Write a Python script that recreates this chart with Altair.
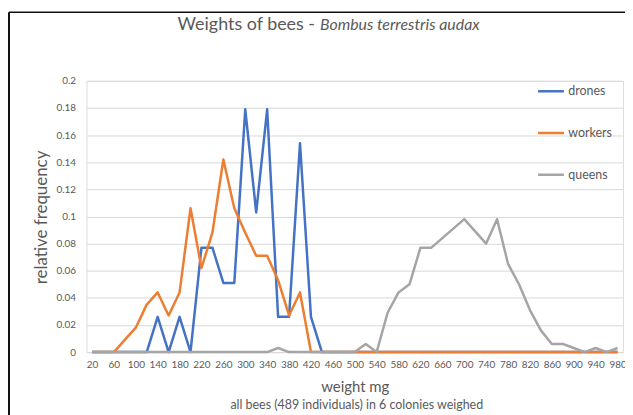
import altair as alt
import pandas as pd

# ---------------- data ----------------
weights = list(range(20, 1000, 20))  # 49 weight classes (mg)

drones = [0, 0, 0, 0, 0, 0, 0.026, 0, 0.026, 0,
          0.077, 0.077, 0.051, 0.051, 0.179, 0.103, 0.179, 0.026, 0.026, 0.154,
          0.026, 0, 0, 0, 0, 0, 0, 0, 0, 0,
          0, 0, 0, 0, 0, 0, 0, 0, 0, 0,
          0, 0, 0, 0, 0, 0, 0, 0, 0]

workers = [0, 0, 0, 0.009, 0.018, 0.035, 0.044, 0.027, 0.044, 0.106,
           0.062, 0.088, 0.142, 0.106, 0.088, 0.071, 0.071, 0.053, 0.027, 0.044,
           0, 0, 0, 0, 0, 0, 0, 0, 0, 0,
           0, 0, 0, 0, 0, 0, 0, 0, 0, 0,
           0, 0, 0, 0, 0, 0, 0, 0, 0]

queens = [0, 0, 0, 0, 0, 0, 0, 0, 0, 0,
          0, 0, 0, 0, 0, 0, 0, 0.003, 0, 0,
          0, 0, 0, 0, 0, 0.006, 0, 0.029, 0.044, 0.050,
          0.077, 0.077, 0.084, 0.091, 0.098, 0.089, 0.080, 0.098, 0.065, 0.050,
          0.031, 0.016, 0.006, 0.006, 0.003, 0, 0.003, 0, 0.003]

series = ["drones", "workers", "queens"]
colors = ["#4472C4", "#ED7D31", "#A5A5A5"]

title_plain = "Weights of bees -"
title_italic = "Bombus terrestris audax"
x_title = "weight mg"
caption = "all bees (489 individuals) in 6 colonies weighed"
y_title = "relative frequency"
x_label_values = list(range(20, 1000, 40))
y_values = [0, 0.02, 0.04, 0.06, 0.08, 0.1, 0.12, 0.14, 0.16, 0.18, 0.2]

frames = []
for name, vals in zip(series, [drones, workers, queens]):
    frames.append(pd.DataFrame({"weight": weights, "freq": vals, "bee": name}))
df = pd.concat(frames, ignore_index=True)

TXT = "#595959"
GRID = "#D9D9D9"

color = alt.Color(
    "bee:N",
    scale=alt.Scale(domain=series, range=colors),
    legend=alt.Legend(
        title=None, orient="none", legendX=453, legendY=-4,
        symbolType="stroke", symbolSize=676, symbolStrokeWidth=2.5,
        rowPadding=21, labelOffset=3, labelFontSize=12.5, labelColor=TXT,
        padding=0,
    ),
)

x = alt.X(
    "weight:O",
    scale=alt.Scale(padding=0.5),
    sort=weights,
    axis=alt.Axis(
        values=x_label_values, labelAngle=0, labelFontSize=10, labelColor=TXT,
        labelPadding=8, labelOverlap=False, ticks=False, tickSize=0,
        domainColor=GRID, grid=False,
        title=x_title, titleFontSize=15, titleColor=TXT, titleFontWeight="normal",
        titleY=35, titleBaseline="middle",
    ),
)
y = alt.Y(
    "freq:Q",
    scale=alt.Scale(domain=[0, 0.2], nice=False),
    axis=alt.Axis(
        values=y_values, format=".2~f", labelFontSize=10, labelColor=TXT,
        labelPadding=11, ticks=False, tickSize=0, domain=False,
        grid=True, gridColor=GRID, gridWidth=1,
        title=y_title, titleFontSize=17, titleColor=TXT, titleFontWeight="normal",
        titleX=-45, titleY=137, titleAlign="center", titleBaseline="middle", titleAngle=270,
    ),
)

layers = []
for name in series:
    layers.append(
        alt.Chart(df[df["bee"] == name])
        .mark_line(strokeWidth=2.5, strokeJoin="round")
        .encode(x=x, y=y, color=color)
    )

one = pd.DataFrame({"k": [0]})
t1 = alt.Chart(pd.DataFrame({"t": [title_plain]})).mark_text(
    align="right", baseline="middle", fontSize=18, color=TXT
).encode(text="t:N", x=alt.value(230), y=alt.value(-56))
t2 = alt.Chart(pd.DataFrame({"t": [title_italic]})).mark_text(
    align="left", baseline="middle", fontSize=16, color=TXT, fontStyle="italic"
).encode(text="t:N", x=alt.value(235), y=alt.value(-56))
cap = alt.Chart(pd.DataFrame({"t": [caption]})).mark_text(
    align="center", baseline="middle", fontSize=12.5, color=TXT
).encode(text="t:N", x=alt.value(272), y=alt.value(326))

frame_left = alt.Chart(one).mark_rule(color="#111111", strokeWidth=2).encode(
    x=alt.value(-78), y=alt.value(-69), y2=alt.value(340))
frame_top = alt.Chart(one).mark_rule(color="#111111", strokeWidth=1.5).encode(
    x=alt.value(-78), x2=alt.value(546), y=alt.value(-69))

chart = alt.layer(*layers, t1, t2, cap, frame_left, frame_top).properties(
    width=540, height=273,
    autosize=alt.AutoSizeParams(type="none"),
    padding={"left": 79, "top": 72, "right": 2, "bottom": 62},
    background="white",
).configure_view(strokeWidth=0).configure(
    font="Lato"
).configure_axis(labelFont="Lato", titleFont="Lato").configure_legend(labelFont="Lato")

chart.save("out.html", embed_options={"renderer": "svg", "actions": False})
